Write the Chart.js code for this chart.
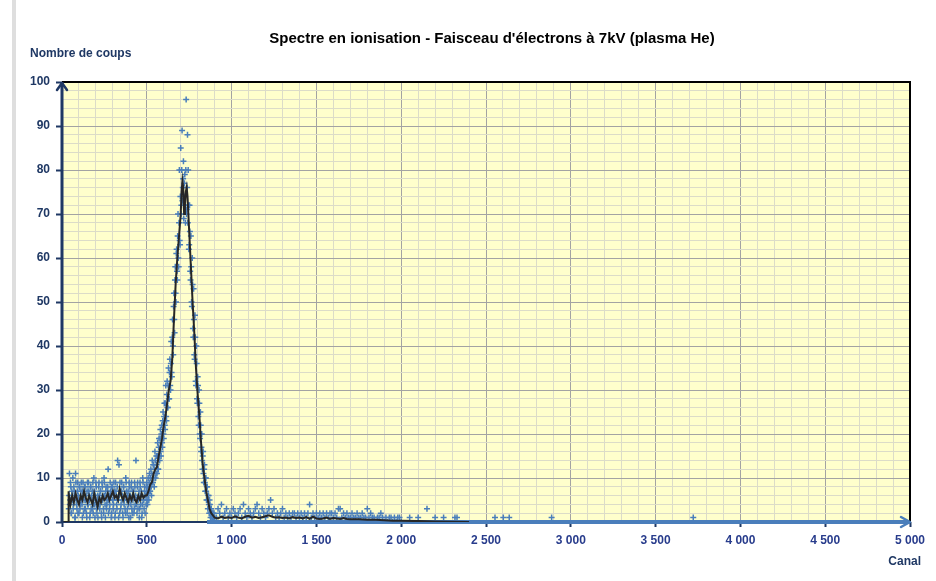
<!DOCTYPE html>
<html><head><meta charset="utf-8">
<script src="https://cdn.jsdelivr.net/npm/chart.js@4/dist/chart.umd.min.js"></script>
<style>html,body{margin:0;padding:0;background:#fff;overflow:hidden}</style>
</head><body>
<canvas id="c" width="936" height="581"></canvas>
<script>
const chartTitle = "Spectre en ionisation - Faisceau d'électrons à 7kV (plasma He)";
const yAxisTitle = "Nombre de coups";
const xAxisTitle = "Canal";

// Measured counts per channel (blue + markers)
const baselineStart = 40, baselineStep = 4;
const baselineCounts = [
 3,11,5,8,2,6,10,4,7,1,11,5,3,9,6,2,8,4,7,5,
 1,9,6,3,8,5,2,7,4,9,6,1,8,3,5,7,2,10,4,6,
 9,3,5,1,8,6,4,7,2,9,5,3,10,6,1,8,4,7,12,5,
 3,9,6,2,8,5,4,7,1,9,6,3,14,5,13,2,7,4,9,6,
 1,8,5,3,10,7,2,6,4,9,5,1,8,3,7,6,2,9,4,14,
 5,8,3,6,1,9,4,7,2,10,5,3,8,6,4,7];
const baselineStart2 = 42, baselineStep2 = 4;
const baselineCounts2 = [
 6,4,9,2,7,5,3,8,6,1,9,4,7,2,5,8,3,6,9,4,
 7,2,5,8,3,6,1,9,4,7,5,2,8,6,3,9,4,7,1,5,
 8,2,6,4,9,3,7,5,1,8,6,2,9,4,7,3,5,8,2,6,
 4,7,1,8,5,3,9,6,2,7,4,8,5,1,6,9,3,7,5,2,
 8,4,6,2,9,5,3,7,1,8,6,4,9,2,5,7,3,8,6,4,
 2,9,5,7,3,8,6,1,4,9,5,7,2,6,8];
const peakStart = 500, peakStep = 4;
const peakCounts = [
 9,4,10,5,11,7,12,6,14,9,13,8,16,10,15,11,18,12,19,14,
 21,15,22,17,25,19,27,21,31,23,32,26,35,28,37,30,41,33,46,38,
 52,43,58,50,62,55,70,58,80,63,85,72,89,76,82,74,79,68,96,71,
 88,80,62,72,57,65,50,60,44,53,38,47,32,40,28,33,24,30,20,25,
 16,20,12,16,9,13,7,10,5,8,3,6,2,4,1,3,1,2,0,2,1];
const peakStart2 = 502, peakStep2 = 4;
const peakCounts2 = [
 5,8,6,9,7,10,8,11,9,13,10,12,14,11,13,15,12,17,15,19,
 16,20,18,23,20,24,22,27,24,29,26,31,28,34,31,36,34,42,40,49,
 46,55,52,61,57,65,60,68,64,74,70,80,73,78,69,77,72,80,70,76,
 68,72,63,66,55,58,49,54,42,46,37,42,31,36,27,31,22,27,19,22,
 17,14,15,11,12,9,10,7,8,5,6,4,5,2,3,2,1,2,1,1];
const tailStart = 910, tailStep = 10;
const tailCounts = [
 1,3,2,4,1,2,3,1,2,1,
 3,2,1,2,3,1,4,2,1,3,
 2,1,2,3,4,2,1,3,2,1,
 2,3,5,2,3,1,2,1,2,3,
 1,2,1,2,1,2,2,1,2,1,
 2,1,2,1,2,4,1,2,1,2,
 1,2,1,2,1,2,1,2,2,1,
 2,1,3,3,1,2,1,2,1,1,
 2,1,1,2,1,1,2,1,1,3,
 1,2,1,1,0,1,1,2,1,0,
 1,0,1,1,0,1,0,1,1,0];
const sparseChannels = [2050,2100,2152,2200,2250,2317,2329,2553,2602,2637,2887,3722];
const sparseCounts   = [1,1,3,1,1,1,1,1,1,1,1,1];

// Smoothed curve (black line)
const avgChannels = [0,36,38,40,50,60,70,80,90,100,110,120,130,140,150,160,170,180,190,200,
 210,220,230,240,250,260,270,280,290,300,310,320,330,340,350,360,370,380,390,400,
 410,420,430,440,450,460,470,480,490,500,510,520,530,540,550,560,570,580,590,600,
 610,620,630,640,650,660,670,680,690,700,705,710,715,720,725,730,735,740,745,750,
 760,770,780,790,800,810,820,830,840,850,860,870,880,890,900,920,940,960,980,1000,
 1020,1040,1060,1080,1100,1120,1140,1160,1180,1200,1220,1240,1260,1280,1300,1320,1340,1360,1380,1400,
 1420,1440,1460,1480,1500,1520,1540,1560,1580,1600,1620,1640,1660,1680,1700,1750,1800,1850,1900,1950,
 2000,2100,2200,2400];
const avgCounts = [0,0,7,6.5,4,6,4.5,6.5,5,4,6,5,7,5.5,4.5,6,5,4,6.5,5,
 3.5,5.5,4.5,6,5,5.5,6.5,5,6,7,5.5,6,5,7.5,6,5,6.5,5.5,4.5,6,
 5,6.5,5,4.5,6,5,6.5,5.5,6,6,7,8.5,9,11,12,12.5,15,17,19,22,
 24,27,30,32,37,46,54,60,65,70,75,77.5,76,70,72,75,76,74,70,66,
 58,50,43,35,29,24,18,13,10,7,5,3,2,1.5,1,0.8,1.2,0.9,1.1,0.9,
 1.3,1,0.8,1.2,1.4,1,1.2,0.9,1.1,1.3,1.5,1.2,1,1.1,0.9,1,0.8,1.1,0.9,1,
 0.8,1.1,0.7,1.2,0.8,0.7,0.8,1,0.7,0.9,0.8,0.7,0.9,0.7,0.6,0.6,0.5,0.5,0.4,0.3,
 0.3,0.2,0.1,0];

// Channels with zero counts (band along the axis)
const zeroChannels = [855, 5000];
const zeroCounts = [0, 0];

const xMin = 0, xMax = 5000, xMinor = 100, xMajor = 500;
const yMin = 0, yMax = 100, yMinor = 2, yMajor = 10;

function pts(start, step, vals){ return vals.map((v,i)=>({x:start+i*step, y:v})); }
function pairs(xs, ys){ return xs.map((x,i)=>({x:x, y:ys[i]})); }
const scatterPts = [].concat(
  pts(baselineStart,baselineStep,baselineCounts), pts(baselineStart2,baselineStep2,baselineCounts2),
  pts(peakStart,peakStep,peakCounts), pts(peakStart2,peakStep2,peakCounts2),
  pts(tailStart,tailStep,tailCounts), pairs(sparseChannels,sparseCounts));

const NAVY = '#1F3864', BLUE = '#4A7EBB', FONT = 'Arial, "Liberation Sans", sans-serif';
function fmt(v){ return String(v).replace(/\B(?=(\d{3})+(?!\d))/g, ' '); }

const deco = {
  id:'deco',
  beforeDraw(chart){
    const {ctx, chartArea:a} = chart;
    ctx.save();
    ctx.fillStyle='#fff'; ctx.fillRect(0,0,chart.width,chart.height);
    ctx.fillStyle='#dedede'; ctx.fillRect(12,0,4,chart.height);
    ctx.fillStyle='#FFFFCC'; ctx.fillRect(a.left,a.top,a.right-a.left,a.bottom-a.top);
    ctx.restore();
  },
  beforeDatasetsDraw(chart){
    const {ctx, chartArea:a} = chart;
    ctx.save();
    ctx.strokeStyle=NAVY; ctx.lineWidth=2;
    ctx.beginPath(); ctx.moveTo(a.left,a.bottom); ctx.lineTo(a.right,a.bottom); ctx.stroke();
    ctx.restore();
  },
  afterDatasetsDraw(chart){
    const {ctx, chartArea:a} = chart;
    ctx.save();
    ctx.strokeStyle='#000'; ctx.lineWidth=2;
    ctx.beginPath(); ctx.moveTo(a.left,a.top); ctx.lineTo(a.right,a.top); ctx.lineTo(a.right,a.bottom); ctx.stroke();
    ctx.strokeStyle=NAVY; ctx.lineWidth=3;
    ctx.beginPath(); ctx.moveTo(a.left,a.bottom+1); ctx.lineTo(a.left,a.top); ctx.stroke();
    ctx.lineWidth=2.5; ctx.lineCap='round'; ctx.lineJoin='round';
    ctx.beginPath(); ctx.moveTo(a.left-5,a.top+8); ctx.lineTo(a.left,a.top+1); ctx.lineTo(a.left+5,a.top+8); ctx.stroke();
    ctx.strokeStyle=BLUE;
    ctx.beginPath(); ctx.moveTo(a.right-9,a.bottom-5); ctx.lineTo(a.right,a.bottom); ctx.lineTo(a.right-9,a.bottom+5); ctx.stroke();
    ctx.restore();
  },
  afterDraw(chart){
    const {ctx} = chart;
    ctx.save();
    ctx.textBaseline='middle';
    ctx.fillStyle='#000'; ctx.font='bold 15px '+FONT; ctx.textAlign='center';
    ctx.fillText(chartTitle, 492, 39);
    ctx.fillStyle=NAVY; ctx.font='bold 12px '+FONT; ctx.textAlign='left';
    ctx.fillText(yAxisTitle, 30, 54);
    ctx.textAlign='right';
    ctx.fillText(xAxisTitle, 921, 562);
    ctx.restore();
  }
};

new Chart(document.getElementById('c'), {
  type:'scatter',
  data:{datasets:[
    {label:'Moyenne', type:'line', data:pairs(avgChannels,avgCounts), borderColor:'#262626', borderWidth:2,
     pointRadius:0, fill:false, tension:0, order:0},
    {label:'Zéro', type:'line', data:pairs(zeroChannels,zeroCounts), borderColor:BLUE, borderWidth:4,
     pointRadius:0, fill:false, order:1, clip:false},
    {label:'Coups', data:scatterPts, pointStyle:'cross', pointRadius:3, borderColor:BLUE, backgroundColor:BLUE,
     pointBorderWidth:1.5, borderWidth:1.5, order:2}
  ]},
  options:{
    responsive:false, animation:false,
    layout:{padding:{left:0,right:26,top:82,bottom:0}},
    plugins:{legend:{display:false}, tooltip:{enabled:false}, title:{display:false}},
    scales:{
      x:{type:'linear', min:xMin, max:xMax,
        ticks:{stepSize:xMinor, autoSkip:false, maxRotation:0, padding:6, color:'#283C8C',
          font:{family:FONT, weight:'bold', size:12},
          callback:v=> v%xMajor===0 ? fmt(v) : ''},
        grid:{color:c=> (c.tick && c.tick.value%xMajor===0) ? '#a3a3a3' : '#dcdcc8', lineWidth:1,
          tickLength:5, tickWidth:2, tickColor:c=> (c.tick && c.tick.value%xMajor===0) ? NAVY : 'rgba(0,0,0,0)'},
        border:{display:false},
        afterFit(s){ s.height = 59; }
      },
      y:{type:'linear', min:yMin, max:yMax,
        ticks:{stepSize:yMinor, autoSkip:false, padding:6, color:NAVY,
          font:{family:FONT, weight:'bold', size:12},
          callback:v=> v%yMajor===0 ? String(v) : ''},
        grid:{color:c=> (c.tick && c.tick.value%yMajor===0) ? '#a3a3a3' : '#dcdcc8', lineWidth:1,
          tickLength:6, tickWidth:2, tickColor:c=> (c.tick && c.tick.value%yMajor===0) ? NAVY : 'rgba(0,0,0,0)'},
        border:{display:false},
        afterFit(s){ s.width = 62; }
      }
    }
  },
  plugins:[deco]
});
</script>
</body></html>
